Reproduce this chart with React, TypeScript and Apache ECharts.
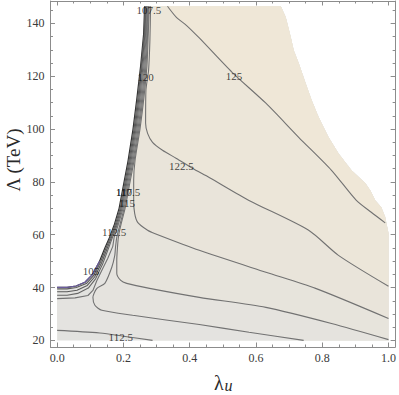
import { useEffect, useRef } from 'react';
import * as echarts from 'echarts';

type P = [number, number];

// ---- axis ticks ----
const xMajor = [0, 0.2, 0.4, 0.6, 0.8, 1.0];
const xMinor = [0.05, 0.1, 0.15, 0.25, 0.3, 0.35, 0.45, 0.5, 0.55, 0.65, 0.7, 0.75, 0.85, 0.9, 0.95];
const yMajor = [20, 40, 60, 80, 100, 120, 140];
const yMinor = [25, 30, 35, 45, 50, 55, 65, 70, 75, 85, 90, 95, 105, 110, 115, 125, 130, 135, 145];

// ---- data-region boundaries (lambda_u, Lambda) ----
const leftEdge: P[] = [
  [0.264, 146.5], [0.261, 136], [0.252, 124], [0.241, 112], [0.229, 100], [0.214, 88], [0.199, 78],
  [0.187, 70], [0.173, 64], [0.158, 59], [0.144, 55], [0.128, 50], [0.107, 45], [0.084, 42],
  [0.057, 40.6], [0.03, 40.1], [0, 40.1],
];
const rightEdge: P[] = [
  [0.675, 146.5], [0.69, 142.3], [0.705, 134.8], [0.714, 129.8], [0.729, 124.9], [0.75, 117.3],
  [0.768, 110.9], [0.789, 104.5], [0.819, 96.9], [0.849, 90.8], [0.888, 84.4], [0.93, 79.5],
  [0.945, 76.8], [0.96, 73.0], [0.978, 70.4], [0.99, 66.6], [1.0, 60.5], [1.0, 20],
];

// ---- contour lines ----
const c105: P[] = [
  [0.266, 146.5], [0.263, 136], [0.254, 124], [0.244, 112], [0.232, 100], [0.217, 88], [0.202, 78],
  [0.19, 70], [0.176, 64], [0.161, 59], [0.147, 54.8], [0.131, 49.7], [0.11, 44.5], [0.088, 41.5],
  [0.058, 40.0], [0.03, 39.5], [0, 39.5],
];
const c107_5: P[] = [
  [0.268, 146.5], [0.265, 136], [0.256, 124], [0.247, 112], [0.235, 100], [0.22, 88], [0.205, 78],
  [0.193, 70], [0.179, 64], [0.164, 59], [0.15, 54.5], [0.134, 49.3], [0.113, 44.0], [0.091, 40.8],
  [0.06, 39.0], [0.03, 38.4], [0, 38.4],
];
const c110: P[] = [
  [0.27, 146.5], [0.267, 136], [0.259, 124], [0.25, 112], [0.238, 100], [0.223, 88], [0.208, 78],
  [0.196, 70], [0.182, 64], [0.167, 59], [0.153, 54.2], [0.137, 48.8], [0.116, 43.3], [0.094, 39.8],
  [0.062, 37.8], [0.03, 37.1], [0, 37.1],
];
const c112_5a: P[] = [
  [0.272, 146.5], [0.269, 136], [0.262, 124], [0.253, 112], [0.241, 100], [0.226, 88], [0.211, 78],
  [0.199, 70], [0.185, 64], [0.172, 59], [0.168, 55.6], [0.153, 51.1], [0.138, 47.3], [0.12, 42.7],
  [0.108, 38.9], [0.093, 37.0], [0.054, 36.1], [0, 35.8],
];
const c112_5b: P[] = [[0, 23.8], [0.129, 22.8], [0.2, 21.6], [0.288, 20]];
const c115: P[] = [
  [0.274, 146.5], [0.271, 136], [0.265, 124], [0.256, 112], [0.244, 100], [0.229, 88], [0.214, 78],
  [0.202, 70], [0.19, 64], [0.18, 59], [0.176, 55], [0.174, 52.2], [0.165, 47.7], [0.144, 41.6],
  [0.12, 39.7], [0.108, 36.3], [0.114, 33.3], [0.135, 31.4], [0.228, 29.5], [0.429, 26.0],
  [0.579, 23.1], [0.744, 20],
];
const c117_5: P[] = [
  [0.276, 146.5], [0.273, 136], [0.268, 124], [0.259, 112], [0.247, 100], [0.232, 88], [0.217, 78],
  [0.205, 70], [0.193, 64], [0.186, 60], [0.183, 56.7], [0.18, 50.3], [0.18, 45.4], [0.192, 42.7],
  [0.21, 41.6], [0.279, 39.7], [0.429, 36.3], [0.63, 32.5], [0.828, 26.4], [1.0, 20.3],
];
const c120: P[] = [
  [0.278, 146.5], [0.275, 136], [0.271, 124], [0.262, 112], [0.25, 100], [0.235, 88], [0.231, 80.6],
  [0.231, 73.0], [0.234, 68.1], [0.243, 64.7], [0.273, 61.7], [0.294, 60.5], [0.429, 54.1],
  [0.63, 45.8], [0.78, 39.7], [1.0, 28.3],
];
const c122_5: P[] = [
  [0.282, 146.5], [0.28, 133.6], [0.276, 122.3], [0.268, 114.7], [0.267, 102.2], [0.273, 98.4],
  [0.288, 95.0], [0.318, 92.0], [0.36, 88.9], [0.408, 85.2], [0.459, 81.7], [0.579, 73.0],
  [0.759, 61.7], [0.849, 52.2], [1.0, 40.5],
];
const c125: P[] = [
  [0.333, 146.5], [0.36, 142.3], [0.39, 139.3], [0.429, 134.5], [0.528, 121.5], [0.63, 109.8],
  [0.729, 96.9], [0.828, 84.4], [0.903, 73.0], [0.948, 68.5], [0.99, 64.5],
];

// ---- contour labels ----
const contourLabels: [number, number, string][] = [
  [0.277, 145.0, '107.5'],
  [0.267, 119.6, '120'],
  [0.534, 120.0, '125'],
  [0.375, 85.9, '122.5'],
  [0.214, 76.1, '117.5'],
  [0.211, 72.0, '115'],
  [0.172, 60.9, '112.5'],
  [0.102, 46.1, '105'],
  [0.192, 21.1, '112.5'],
];
const overlapLabels: [number, number, string][] = [[0.214, 76.1, '110']];

const FONT = '"Liberation Serif", "DejaVu Serif", serif';

export default function App() {
  const ref = useRef<HTMLDivElement>(null);

  useEffect(() => {
    if (!ref.current) return;
    const chart = echarts.init(ref.current, undefined, { renderer: 'svg' });

    const upFrom = (lam: number): P[] => rightEdge.filter((p) => p[1] > lam - 0.01).reverse();
    const superlevel = (line: P[]): P[] => [...line, ...upFrom(line[line.length - 1][1])];

    const polys: { pts: P[]; color: string }[] = [
      { pts: [[0, 20], ...[...leftEdge].reverse(), ...rightEdge], color: '#E2E2DF' },
      { pts: [...c112_5b, ...[...rightEdge].reverse(), ...c112_5a], color: '#E4E3E0' },
      { pts: superlevel(c115), color: '#E5E3DE' },
      { pts: superlevel(c117_5), color: '#E7E4DC' },
      { pts: superlevel(c120), color: '#E9E4DA' },
      { pts: superlevel(c122_5), color: '#ECE6D9' },
      { pts: superlevel(c125), color: '#EFE7D7' },
    ];

    const lineColor = '#727272';
    const mkLine = (data: P[], smooth: number | boolean = false, color = lineColor, width = 1.1) => ({
      type: 'line',
      data,
      xAxisIndex: 0,
      yAxisIndex: 0,
      showSymbol: false,
      symbol: 'none',
      smooth,
      silent: true,
      z: 3,
      lineStyle: { color, width },
    });

    const frame = '#8c8c8c';
    const mkX = (pos: 'top' | 'bottom', ticks: number[], len: number, showLine: boolean, showLabel: boolean) => ({
      type: 'value',
      position: pos,
      min: -0.02,
      max: 1.02,
      axisLine: { show: showLine, onZero: false, lineStyle: { color: frame, width: 1 } },
      axisTick: { show: true, inside: true, length: len, customValues: ticks, lineStyle: { color: frame, width: 1 } },
      axisLabel: showLabel
        ? { show: true, customValues: ticks, formatter: (v: number) => v.toFixed(1), fontFamily: FONT, fontSize: 12, color: '#3a3a3a', margin: 5 }
        : { show: false },
      splitLine: { show: false },
    });
    const mkY = (pos: 'left' | 'right', ticks: number[], len: number, showLine: boolean, showLabel: boolean) => ({
      type: 'value',
      position: pos,
      min: 17.5,
      max: 148.5,
      axisLine: { show: showLine, onZero: false, lineStyle: { color: frame, width: 1 } },
      axisTick: { show: true, inside: true, length: len, customValues: ticks, lineStyle: { color: frame, width: 1 } },
      axisLabel: showLabel
        ? { show: true, customValues: ticks, fontFamily: FONT, fontSize: 12, color: '#3a3a3a', margin: 6 }
        : { show: false },
      splitLine: { show: false },
    });

    const labelStyle = { show: true, position: 'inside', formatter: '{b}', fontFamily: FONT, fontSize: 11, color: '#111111' };

    chart.setOption({
      animation: false,
      backgroundColor: '#ffffff',
      grid: { left: 50.5, right: 2.5, top: 1, bottom: 48, containLabel: false },
      xAxis: [
        mkX('bottom', xMajor, 4.5, true, true),
        mkX('bottom', xMinor, 2.5, false, false),
        mkX('top', xMajor, 4.5, true, false),
        mkX('top', xMinor, 2.5, false, false),
      ],
      yAxis: [
        mkY('left', yMajor, 4.5, true, true),
        mkY('left', yMinor, 2.5, false, false),
        mkY('right', yMajor, 4.5, true, false),
        mkY('right', yMinor, 2.5, false, false),
      ],
      series: [
        {
          type: 'custom',
          xAxisIndex: 0,
          yAxisIndex: 0,
          silent: true,
          clip: false,
          z: 1,
          data: polys.map((p) => p.pts[0]),
          renderItem: (params: any, api: any) => {
            const poly = polys[params.dataIndex];
            return {
              type: 'polygon',
              shape: { points: poly.pts.map((p) => api.coord(p)) },
              style: { fill: poly.color },
              silent: true,
            };
          },
        },
        mkLine(leftEdge, false, '#333333', 1.2),
        mkLine(leftEdge.filter((p) => p[1] < 52), false, '#6b5c9e', 1.2),
        mkLine(c105, false, '#5a5a5a'),
        mkLine(c107_5, false, '#5a5a5a'),
        mkLine(c110, false, '#666666'),
        mkLine(c112_5a),
        mkLine(c112_5b, 0.3),
        mkLine(c115, 0.25),
        mkLine(c117_5, 0.25),
        mkLine(c120, 0.25),
        mkLine(c122_5, 0.25),
        mkLine(c125, 0.25),
        {
          type: 'scatter',
          xAxisIndex: 0,
          yAxisIndex: 0,
          silent: true,
          z: 5,
          symbolSize: 1,
          itemStyle: { color: 'rgba(0,0,0,0)' },
          data: contourLabels.map((l) => ({ name: l[2], value: [l[0], l[1]] })),
          label: labelStyle,
        },
        {
          type: 'scatter',
          xAxisIndex: 0,
          yAxisIndex: 0,
          silent: true,
          z: 5,
          symbolSize: 1,
          itemStyle: { color: 'rgba(0,0,0,0)' },
          data: overlapLabels.map((l) => ({ name: l[2], value: [l[0], l[1]] })),
          label: { ...labelStyle, offset: [-4, 0] },
        },
      ],
      graphic: [
        {
          type: 'text',
          x: 13.5,
          y: 160,
          rotation: Math.PI / 2,
          style: { text: 'Λ (TeV)', font: `19px ${FONT}`, fill: '#2a2a2a', align: 'center', verticalAlign: 'middle' },
        },
        {
          type: 'text',
          x: 214,
          y: 383,
          style: { text: 'λ', font: `20px ${FONT}`, fill: '#2a2a2a', align: 'left', verticalAlign: 'middle' },
        },
        {
          type: 'text',
          x: 224.5,
          y: 385.5,
          style: { text: 'u', font: `italic 16px ${FONT}`, fill: '#2a2a2a', align: 'left', verticalAlign: 'middle' },
        },
      ],
    });

    return () => chart.dispose();
  }, []);

  return <div ref={ref} style={{ position: 'absolute', left: 0, top: 0, width: 399, height: 395 }} />;
}
